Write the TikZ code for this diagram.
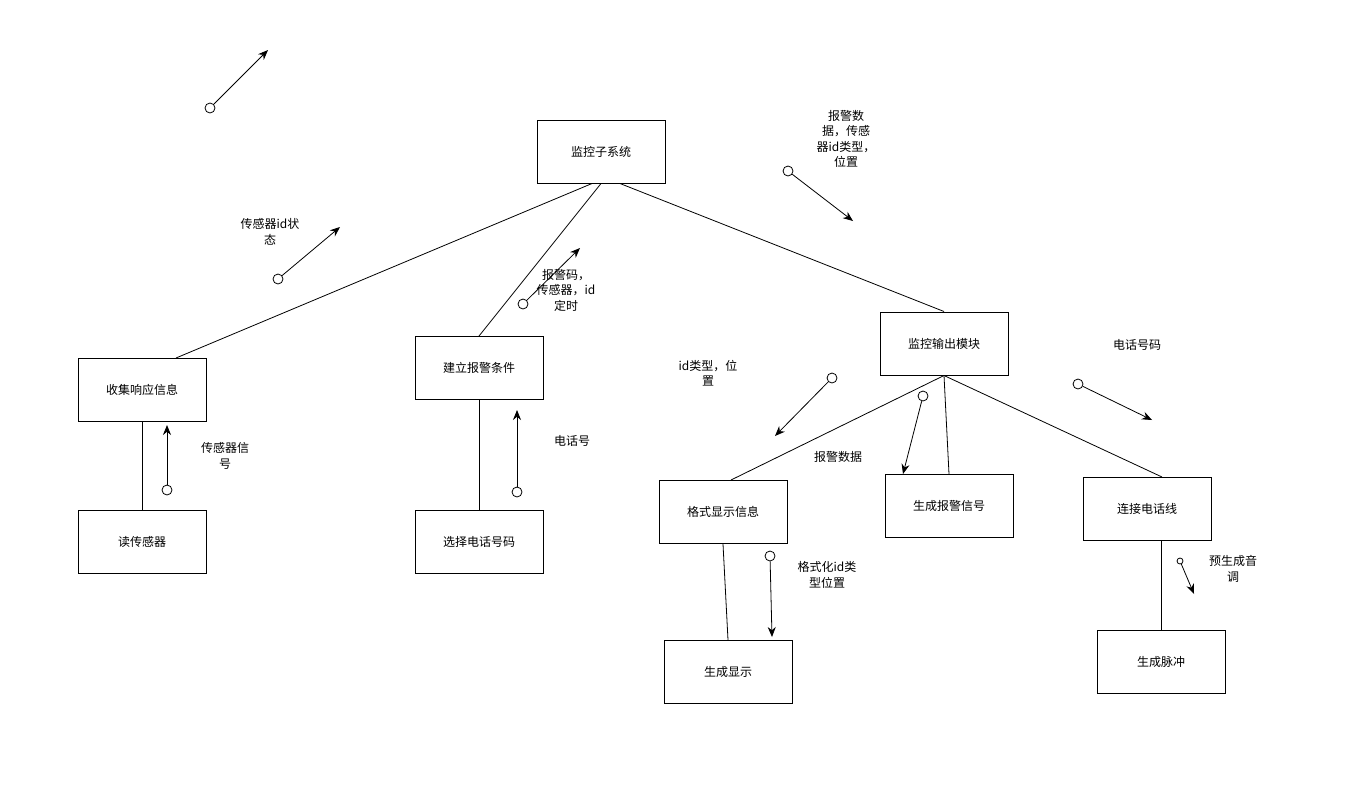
\documentclass[tikz,border=0pt]{standalone}
\usepackage{fontspec}
\setmainfont{Noto Sans CJK SC}
\usetikzlibrary{arrows.meta}
\tikzset{
  module/.style={draw, line width=1pt, minimum width=128pt, minimum height=63pt, inner sep=0pt, font=\fontsize{12}{14}\selectfont},
  couple/.style={draw, circle, line width=0.8pt, inner sep=0pt, minimum size=10pt},
  flow/.style={line width=0.8pt, -{Stealth[length=10pt,width=8pt]}},
  note/.style={align=center, inner sep=0pt, font=\fontsize{12}{15.5}\selectfont},
}
\begin{document}
\begin{tikzpicture}[x=1pt,y=-1pt]
        \useasboundingbox (0,0) rectangle (1365,801);
        % Modules
        \node[module] (sys) at (601,151.5) {监控子系统};
        \node[module] (collect) at (142,390) {收集响应信息};
        \node[module] (cond) at (479,368) {建立报警条件};
        \node[module] (out) at (944,343.5) {监控输出模块};
        \node[module] (read) at (142,542) {读传感器};
        \node[module] (select) at (479,542) {选择电话号码};
        \node[module] (format) at (723,512) {格式显示信息};
        \node[module] (signal) at (949,506) {生成报警信号};
        \node[module] (line) at (1147,509) {连接电话线};
        \node[module] (show) at (728,672) {生成显示};
        \node[module] (pulse) at (1161,661.5) {生成脉冲};
        % Calls
        \draw[line width=0.8pt] ([xshift=-9pt]sys.south) -- ([xshift=34pt]collect.north);
        \draw[line width=0.8pt] (sys.south) -- (cond.north);
        \draw[line width=0.8pt] ([xshift=19pt]sys.south) -- (out.north);
        \draw[line width=0.8pt] (collect.south) -- (read.north);
        \draw[line width=0.8pt] (cond.south) -- (select.north);
        \draw[line width=0.8pt] (out.south) -- ([xshift=8pt]format.north);
        \draw[line width=0.8pt] (out.south) -- (signal.north);
        \draw[line width=0.8pt] (out.south) -- ([xshift=15pt]line.north);
        \draw[line width=0.8pt] (format.south) -- (show.north);
        \draw[line width=0.8pt] ([xshift=14pt]line.south) -- (pulse.north);
        % Data couples: tail circle -> head
        \node[couple] (c1) at (210,108) {};
        \coordinate (h1) at (268,50);
        \draw[flow] (c1) -- (h1);
        \node[couple] (c2) at (278,279) {};
        \coordinate (h2) at (340,227);
        \draw[flow] (c2) -- (h2);
        \node[note] (l2) at (270,232) {传感器id状\\态};
        \node[couple] (c3) at (523,304) {};
        \coordinate (h3) at (580,248);
        \draw[flow] (c3) -- (h3);
        \node[note] (l3) at (566,290) {报警码，\\传感器，id\\定时};
        \node[couple] (c4) at (788,171) {};
        \coordinate (h4) at (853,221);
        \draw[flow] (c4) -- (h4);
        \node[note] (l4) at (846,139) {报警数\\据，传感\\器id类型，\\位置};
        \node[couple] (c5) at (832,378) {};
        \coordinate (h5) at (775,436);
        \draw[flow] (c5) -- (h5);
        \node[note] (l5) at (708,373) {id类型，位\\置};
        \node[couple] (c6) at (923,396) {};
        \coordinate (h6) at (903,474);
        \draw[flow] (c6) -- (h6);
        \node[note] (l6) at (838,457) {报警数据};
        \node[couple] (c7) at (1078,384) {};
        \coordinate (h7) at (1152,420);
        \draw[flow] (c7) -- (h7);
        \node[note] (l7) at (1137,345) {电话号码};
        \node[couple] (c8) at (167,490) {};
        \coordinate (h8) at (167,425);
        \draw[flow] (c8) -- (h8);
        \node[note] (l8) at (225,456) {传感器信\\号};
        \node[couple] (c9) at (517,492) {};
        \coordinate (h9) at (517,410);
        \draw[flow] (c9) -- (h9);
        \node[note] (l9) at (572,441) {电话号};
        \node[couple] (c10) at (770,556) {};
        \coordinate (h10) at (772,637);
        \draw[flow] (c10) -- (h10);
        \node[note] (l10) at (827,575) {格式化id类\\型位置};
        \node[couple, minimum size=6pt] (c11) at (1180,561) {};
        \coordinate (h11) at (1194,594);
        \draw[flow] (c11) -- (h11);
        \node[note] (l11) at (1233,569) {预生成音\\调};
\end{tikzpicture}
\end{document}
